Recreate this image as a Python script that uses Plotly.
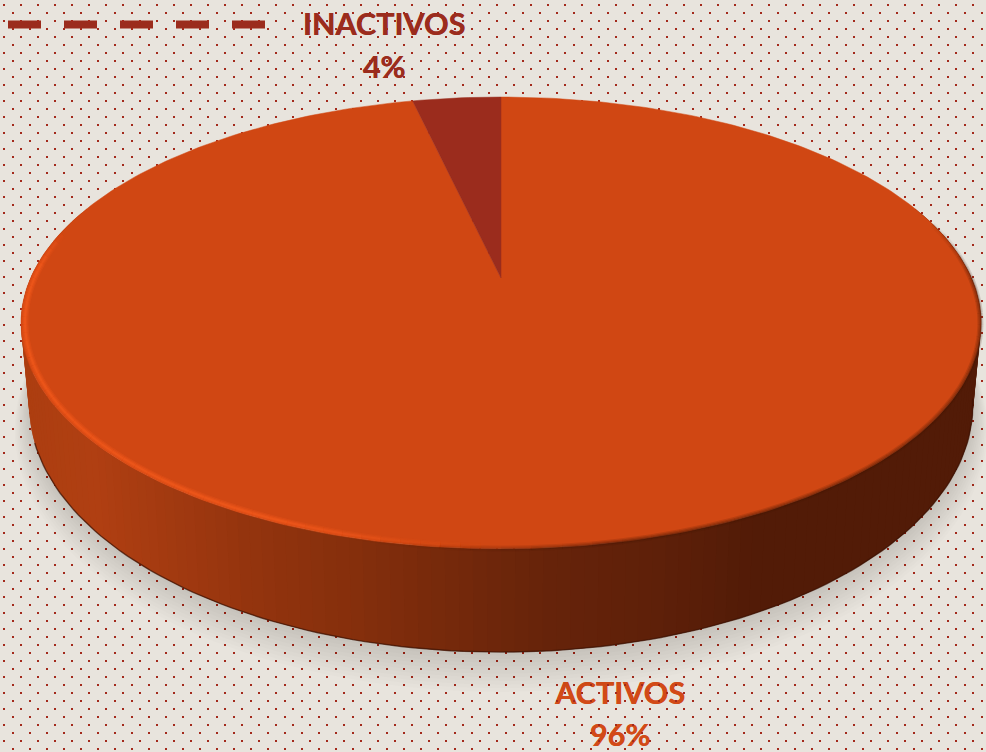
import numpy as np
import plotly.graph_objects as go

categories = ["ACTIVOS", "INACTIVOS"]
values = [96.4, 3.6]
slice_colors = ["#D04713", "#9B2C1D"]
text_colors = ["#D24A17", "#9B2C1D"]
wall_x = [20, 100, 250, 350, 450, 550, 650, 750, 990]
wall_r = [172, 176, 148, 134, 117, 102, 95, 82, 82]
wall_g = [62, 63, 52, 47, 41, 35, 32, 27, 27]
wall_b = [16, 18, 14, 12, 11, 10, 9, 7, 7]

W, H = 986, 752
BG = "#E8E4DD"
CX, Y0, A, B, K = 501.0, 278.0, 470.4, 217.0, 0.199
SX, SY, Y0B = 0.983, 1.093, 356.0


def top(t, r=1.0):
    u, v = r * np.sin(t), r * np.cos(t)
    w = 1 + K * v
    return CX + A * u / w, Y0 - B * v / w


def bottom(t, grow=0.0):
    u, v = np.sin(t), np.cos(t)
    w = 1 + K * v
    return CX + (SX * A + grow) * u / w, Y0B - (SY * B + grow) * v / w


def poly(x, y, color, line=None, lw=0.0):
    return go.Scatter(
        x=list(x), y=list(y), mode="lines", fill="toself", fillcolor=color,
        line=dict(color=line or color, width=lw), hoverinfo="skip", showlegend=False,
    )


def seg(x, y, color, width):
    return go.Scatter(
        x=list(x), y=list(y), mode="lines", line=dict(color=color, width=width),
        hoverinfo="skip", showlegend=False,
    )


def alpha(v):
    return round(float(np.clip(v, 0.0, 1.0)), 3)


fig = go.Figure()
total = sum(values)
pct = [f"{round(100 * v / total)}%" for v in values]

# labels (under the dot pattern)
fig.add_trace(go.Scatter(
    x=[620, 620], y=[696, 738], mode="text", text=[categories[0], pct[0]],
    textposition="middle center",
    textfont=dict(family="Lato", size=30.5, color=text_colors[0], weight="bold",
                  shadow=f"0.5px 0 0 {text_colors[0]}"),
    hoverinfo="skip", showlegend=False))
fig.add_trace(go.Scatter(
    x=[384, 384], y=[27, 70], mode="text", text=[categories[1], pct[1]],
    textposition="middle center",
    textfont=dict(family="Lato", size=30.5, color=text_colors[1], weight="bold",
                  shadow=f"0.5px 0 0 {text_colors[1]}"),
    hoverinfo="skip", showlegend=False))

# leader line
fig.add_trace(go.Scatter(
    x=[8, 265], y=[24.5, 24.5], mode="lines",
    line=dict(color="#9B2C1D", width=8, dash="33px,23px"),
    hoverinfo="skip", showlegend=False))

# dot pattern
dx, dy = [], []
for k in range(48):
    for off, y in ((4.0, 5.0 + 16 * k), (13.0, 13.0 + 16 * k)):
        xs = off + 17 * np.arange(59)
        dx.extend(xs.tolist())
        dy.extend([y] * len(xs))
fig.add_trace(go.Scatter(
    x=dx, y=dy, mode="markers",
    marker=dict(symbol="square", size=2, color="#A32A1C", line=dict(width=0)),
    hoverinfo="skip", showlegend=False))

# soft shadow
tt = np.linspace(0, 2 * np.pi, 241)
for i in range(11):
    g = 1.3 * (11 - i)
    sx, sy = bottom(tt, g)
    fig.add_trace(poly(sx, np.array(sy) + 2.0 * (11 - i), "rgba(0,0,0,0.012)"))

# side wall: overlapping strips painted left to right, shaded by position
edges = np.radians(np.linspace(290, 70, 161))
for a, b, c2 in zip(edges[:-2], edges[1:-1], edges[2:]):
    t2 = np.array([a, c2])
    tx, ty = top(t2)
    bx, by = bottom(t2)
    xm = float(bottom(np.array([a, b]))[0].mean())
    c = "rgb({:.0f},{:.0f},{:.0f})".format(
        np.interp(xm, wall_x, wall_r), np.interp(xm, wall_x, wall_g), np.interp(xm, wall_x, wall_b))
    fig.add_trace(poly([tx[0], tx[1], bx[1], bx[0]], [ty[0], ty[1], by[1], by[0]], c, c, 0))

# dark foot of the wall
ft = np.radians(np.linspace(100, 250, 121))
fx, fy = bottom(ft)
fig.add_trace(seg(fx, fy, "rgba(60,18,4,0.7)", 1.4))

# top face: slices computed from the values
start = 0.0
for v, c in zip(values, slice_colors):
    end = start + 2 * np.pi * v / total
    t = np.linspace(start, end, max(3, int(360 * v / total)))
    x, y = top(t)
    fig.add_trace(poly([CX, *x, CX], [Y0, *y, Y0], c, c, 0.5))
    start = end

# dark blur on the right and front rim
dark = np.radians(np.linspace(72, 195, 42))
for (r, col, wd) in ((0.999, 0.16, 6), (0.999, 0.22, 3.5), (1.0, 0.3, 1.5)):
    for a, b in zip(dark[:-1], dark[1:]):
        fade = min(1.0, (np.degrees(a) - 72) / 18) * min(1.0, (195 - np.degrees(b)) / 25 + 0.01)
        x, y = top(np.array([a, b]), r)
        fig.add_trace(seg(x, y, f"rgba(70,22,6,{alpha(col * fade)})", wd))

# bright rim on the left and front
lit = np.radians(np.linspace(180, 282, 52))
for (r, col, wd) in ((0.992, 0.22, 7), (0.992, 0.3, 4.5), (0.992, 0.4, 2)):
    for a, b in zip(lit[:-1], lit[1:]):
        d = np.degrees(a)
        fade = min(1.0, (d - 180) / 22) * min(1.0, (282 - d) / 10)
        x, y = top(np.array([a, b]), r)
        fig.add_trace(seg(x, y, f"rgba(250,92,30,{alpha(col * fade)})", wd))

fig.update_layout(
    width=W, height=H, margin=dict(l=0, r=0, t=0, b=0),
    paper_bgcolor=BG, plot_bgcolor=BG, showlegend=False,
    xaxis=dict(range=[0, W], visible=False, fixedrange=True),
    yaxis=dict(range=[H, 0], visible=False, fixedrange=True),
)
fig.write_html(
    "out.html", config=dict(displayModeBar=False),
    post_script="document.body.style.margin='0';document.body.style.overflow='hidden';"
                "document.body.style.background='" + BG + "';",
)
